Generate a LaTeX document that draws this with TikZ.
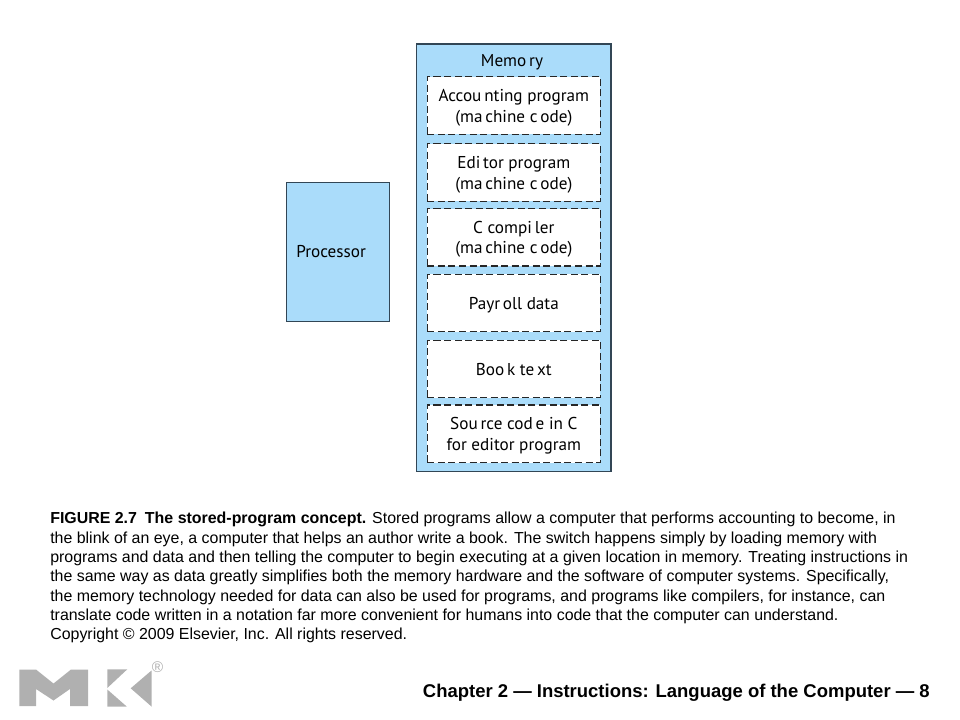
\documentclass[tikz,border=0pt]{standalone}
\usepackage{fontspec}
\setmainfont{Liberation Sans}
\newfontfamily\figfont{PT Sans}
\usepackage{tikz}
\usetikzlibrary{calc}
\definecolor{boxblue}{RGB}{170,220,250}
\definecolor{boxline}{RGB}{50,70,85}
\definecolor{logogray}{RGB}{176,176,176}
\tikzset{
  figtext/.style={font=\figfont\fontsize{12.2}{14.6}\selectfont},
  slottext/.style={figtext,align=center,inner sep=0pt,yshift=-1.5pt},
  memslot/.style={draw=black!85,fill=white,dash pattern=on 5pt off 2.5pt,line width=0.9pt,minimum width=173*0.711pt,minimum height=57.5*0.711pt,inner sep=0pt},
  unitbox/.style={draw=boxline,fill=boxblue,line width=1pt,inner sep=0pt}
}
\begin{document}
\begin{tikzpicture}[x=0.025cm,y=-0.025cm]
    \useasboundingbox (0,0) rectangle (960,720);
    \node[unitbox,minimum width=194.5*0.711pt,minimum height=428*0.711pt] (memory) at (513.8,257.8) {};
    \node[unitbox,minimum width=103*0.711pt,minimum height=139*0.711pt] (processor) at (338.2,251.8) {};
    \node[figtext,anchor=west,inner sep=0pt] (proclabel) at (296,252) {Processor};
    \node[figtext] (memlabel) at (512,62) {Memo\,ry};
    \node[memslot] (slota) at (513.8,105.6) {};
    \node[memslot] (slotb) at (513.8,172.5) {};
    \node[memslot] (slotc) at (513.8,237.3) {};
    \node[memslot] (slotd) at (513.8,303) {};
    \node[memslot] (slote) at (513.8,369) {};
    \node[memslot] (slotf) at (513.8,433.8) {};
    \node[slottext] (texta) at (slota) {Accou\,nting program\\(ma\,chine c\,ode)};
    \node[slottext] (textb) at (slotb) {Edi\,tor program\\(ma\,chine c\,ode)};
    \node[slottext] (textc) at (slotc) {C compi\,ler\\(ma\,chine c\,ode)};
    \node[slottext] (textd) at (slotd) {Payr\,oll data};
    \node[slottext] (texte) at (513.8,367.5) {Boo\,k te\,xt};
    \node[slottext] (textf) at (slotf) {Sou\,rce cod\,e in C\\for editor program};
    % logo
    \fill[logogray] (19.3,669.5) -- (36,669.5) -- (53.5,683.5) -- (71,669.5) -- (88,669.5) -- (88,706) -- (70,706) -- (70,689) -- (53.5,700.5) -- (36,689) -- (36,706) -- (19.3,706) -- cycle;
    \fill[logogray] (107.3,669.3) -- (127.3,669.3) -- (107.3,688) -- cycle;
    \fill[logogray] (107.3,689.5) -- (126.7,706.5) -- (107.3,706.5) -- cycle;
    \fill[logogray] (151.5,670.5) -- (151.5,706.5) -- (130.7,688.3) -- cycle;
    \node[font=\fontsize{11}{12}\selectfont,text=logogray,inner sep=0pt] (regmark) at (157.5,667) {®};
    \node[anchor=north west,inner sep=0pt,align=left,font=\fontsize{11.33}{13.75}\selectfont] (caption) at (50,512) {\textbf{FIGURE 2.7\enspace The stored-program concept.} Stored programs allow a computer that performs accounting to become, in\\
    the blink of an eye, a computer that helps an author write a book. The switch happens simply by loading memory with\\
    programs and data and then telling the computer to begin executing at a given location in memory. Treating instructions in\\
    the same way as data greatly simplifies both the memory hardware and the software of computer systems. Specifically,\\
    the memory technology needed for data can also be used for programs, and programs like compilers, for instance, can\\
    translate code written in a notation far more convenient for humans into code that the computer can understand.\\
    Copyright © 2009 Elsevier, Inc. All rights reserved.};
    \node[anchor=east,inner sep=0pt,font=\bfseries\fontsize{13.14}{15}\selectfont] (footer) at (930,693) {Chapter 2 — Instructions: Language of the Computer — 8};
\end{tikzpicture}
\end{document}
